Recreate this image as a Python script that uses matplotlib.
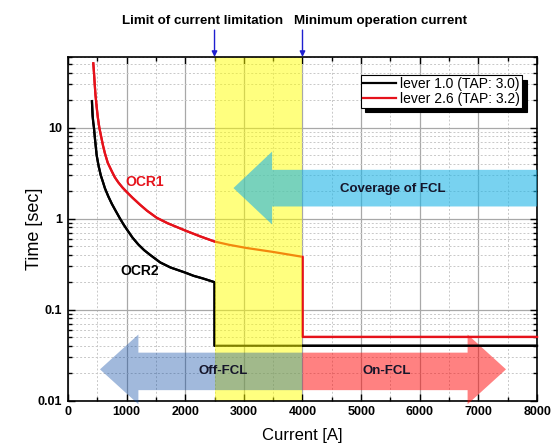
import numpy as np
import matplotlib.pyplot as plt
import matplotlib.transforms as mtransforms
from matplotlib.patches import Polygon, Rectangle
from matplotlib.ticker import MultipleLocator, LogLocator, FuncFormatter

plt.rcParams['font.family'] = ['Liberation Sans', 'DejaVu Sans']

# OCR curves (current [A], time [sec])
ocr2_current = [410, 416, 422, 432, 444, 462, 490, 520, 560, 600, 632, 690,
                750, 820, 889, 950, 1000, 1100, 1200, 1300, 1400, 1573, 1750,
                2000, 2143, 2300, 2500]
ocr2_time = [19.6, 16, 13.4, 11.5, 10, 7.5, 5.0, 3.9, 3.0, 2.5, 2.15, 1.75,
             1.45, 1.2, 1.0, 0.86, 0.77, 0.62, 0.52, 0.45, 0.40, 0.33, 0.29,
             0.255, 0.235, 0.22, 0.20]
ocr1_current = [433, 445, 456, 470, 490, 510, 536, 570, 600, 632, 680, 750,
                800, 860, 930, 1000, 1100, 1231, 1350, 1516, 1700, 2000, 2250,
                2500, 2750, 3050, 3500, 4000]
ocr1_time = [51, 40, 31, 23, 17, 13, 10, 7.8, 6.3, 5.2, 4.1, 3.3,
             2.85, 2.5, 2.2, 1.97, 1.7, 1.42, 1.22, 1.02, 0.89, 0.74, 0.64,
             0.56, 0.515, 0.475, 0.43, 0.38]

# flat part once the FCL operates
ocr2_step_current = [2500, 8000]
ocr2_step_time = [0.04, 0.04]
ocr1_step_current = [4000, 8000]
ocr1_step_time = [0.05, 0.05]

limit_current = 2500
min_op_current = 4000

series_labels = ['lever 1.0 (TAP: 3.0)', 'lever 2.6 (TAP: 3.2)']

# block arrows: tail, head base, tip (A); shaft and head extent (sec)
coverage_arrow = (8000, 3482, 2823, (1.36, 3.44), (0.86, 5.46))
off_arrow = (4000, 1202, 547, (0.013, 0.0336), (0.0091, 0.0532))
on_arrow = (4000, 6815, 7470, (0.013, 0.0336), (0.0091, 0.0532))


def block_arrow(ax, spec, color, alpha):
    tail, base, tip, shaft, head = spec
    mid = np.sqrt(head[0] * head[1])
    verts = [(tail, shaft[0]), (base, shaft[0]), (base, head[0]), (tip, mid),
             (base, head[1]), (base, shaft[1]), (tail, shaft[1])]
    p = Polygon(verts, closed=True, facecolor=color, edgecolor='none',
                alpha=alpha, zorder=3, clip_on=False)
    ax.add_patch(p)


fig = plt.figure(figsize=(5.52, 4.48), dpi=100)
ax = fig.add_axes([0.123, 0.106, 0.850, 0.767])

ax.set_yscale('log')
ax.set_xlim(0, 8000)
ax.set_ylim(0.01, 60)

black_x = ocr2_current + ocr2_step_current
black_y = ocr2_time + ocr2_step_time
red_x = ocr1_current + ocr1_step_current
red_y = ocr1_time + ocr1_step_time

# full lines under the yellow band, clean copies on top outside it
trans = mtransforms.blended_transform_factory(ax.transData, ax.transAxes)
handles = []
for xs, ys, col in [(black_x, black_y, 'black'), (red_x, red_y, '#e5121b')]:
    ax.plot(xs, ys, color=col, lw=1.6, zorder=2)
    for x0, x1 in [(-1000, limit_current), (min_op_current, 9000)]:
        ln, = ax.plot(xs, ys, color=col, lw=1.6, zorder=4)
        ln.set_clip_path(Rectangle((x0, -0.1), x1 - x0, 1.2, transform=trans))
    handles.append(ln)

ax.axvspan(limit_current, min_op_current, facecolor='#ffff00', alpha=0.5,
           lw=0, zorder=2.5)

block_arrow(ax, coverage_arrow, '#1eb4e6', 0.6)
block_arrow(ax, off_arrow, '#0042a0', 0.37)
block_arrow(ax, on_arrow, '#ff0505', 0.5)

txt_col = '#15152a'
ax.text(5533, 2.13, 'Coverage of FCL', ha='center', va='center', fontsize=9.5,
        fontweight='bold', color=txt_col, zorder=5)
ax.text(2645, 0.021, 'Off-FCL', ha='center', va='center', fontsize=9.5,
        fontweight='bold', color=txt_col, zorder=5)
ax.text(5436, 0.021, 'On-FCL', ha='center', va='center', fontsize=9.5,
        fontweight='bold', color=txt_col, zorder=5)
ax.text(1316, 2.54, 'OCR1', ha='center', va='center', fontsize=10,
        fontweight='bold', color='#e5121b', zorder=5)
ax.text(1230, 0.263, 'OCR2', ha='center', va='center', fontsize=10,
        fontweight='bold', color='black', zorder=5)

for xc, label, xt in [(limit_current, 'Limit of current limitation', 2290),
                      (min_op_current, 'Minimum operation current', 5333)]:
    ax.annotate('', xy=(xc, 1.0), xycoords=trans, xytext=(xc, 1.078),
                textcoords=trans,
                arrowprops=dict(arrowstyle='-|>', color='#1f1fd0', lw=1,
                                mutation_scale=8, shrinkA=0, shrinkB=0))
    ax.text(xt, 1.104, label, transform=trans, ha='center', va='center',
            fontsize=9.6, fontweight='bold')

ax.set_axisbelow(True)
ax.grid(which='major', color='#a8a8a8', lw=0.9, ls='-')
ax.grid(which='minor', color='#c8c8c8', lw=0.7, ls=(0, (2, 2)))

ax.xaxis.set_major_locator(MultipleLocator(1000))
ax.xaxis.set_minor_locator(MultipleLocator(500))
ax.yaxis.set_major_locator(LogLocator(base=10, numticks=10))
ax.yaxis.set_minor_locator(LogLocator(base=10, subs=np.arange(2, 10), numticks=20))
ax.yaxis.set_major_formatter(FuncFormatter(lambda v, p: f'{v:g}'))
ax.tick_params(which='both', direction='in', top=True, right=True, width=1)
ax.tick_params(which='major', length=5, labelsize=9, pad=4)
ax.tick_params(which='minor', length=3)
plt.setp(ax.get_xticklabels() + ax.get_yticklabels(), fontweight='bold')
for s in ax.spines.values():
    s.set_linewidth(1.2)

ax.set_xlabel('Current [A]', fontsize=12, labelpad=7)
ax.set_ylabel('Time [sec]', fontsize=13)
ax.yaxis.set_label_coords(-0.053, 0.5)

leg = ax.legend(handles, series_labels, loc='upper right',
                bbox_to_anchor=(0.968, 0.948), borderaxespad=0, fontsize=10,
                handlelength=2.4, handletextpad=0.3, labelspacing=0.05,
                borderpad=0.15, fancybox=False, framealpha=1, edgecolor='black',
                shadow={'color': 'black', 'alpha': 1, 'ox': 3.5, 'oy': -3.5})
leg.get_frame().set_linewidth(0.8)
leg.set_zorder(6)

fig.savefig('out.png', dpi=100)
